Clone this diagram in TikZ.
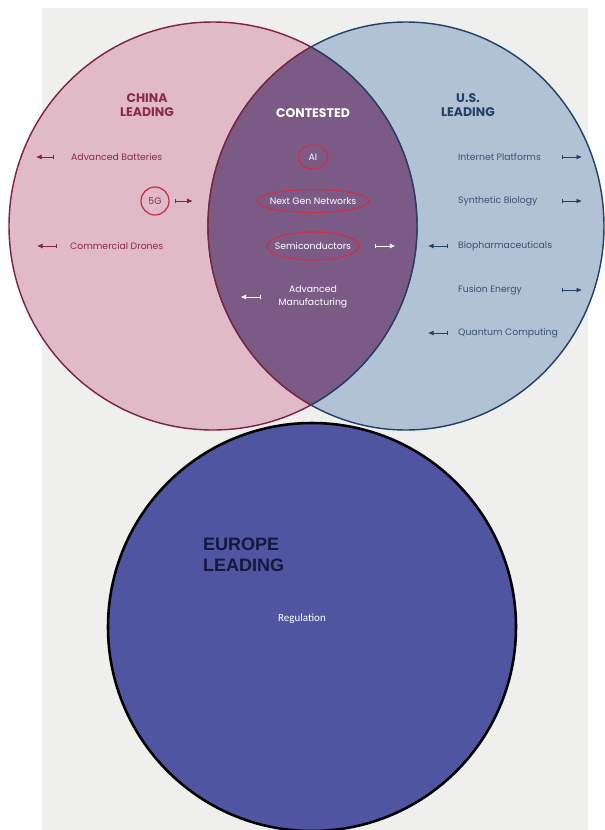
\documentclass[tikz,border=0pt]{standalone}
\usepackage{fontspec}
\setmainfont{Poppins}
\newfontfamily\arialfont{Liberation Sans}
\newfontfamily\calibrifont{Carlito}
\usetikzlibrary{arrows.meta,shapes.geometric,positioning}
\definecolor{bgGrey}{HTML}{EFEFED}
\definecolor{chinaFill}{HTML}{E0BAC7}
\definecolor{chinaLine}{HTML}{7E2344}
\definecolor{chinaText}{HTML}{8A2A4C}
\definecolor{usFill}{HTML}{B2C2D5}
\definecolor{usLine}{HTML}{23406A}
\definecolor{usText}{HTML}{3A5273}
\definecolor{lensFill}{HTML}{7B5B86}
\definecolor{ringRed}{HTML}{C8304C}
\definecolor{euFill}{HTML}{5055A2}
\definecolor{euText}{HTML}{15173C}

\tikzset{
	head/.style={font=\bfseries\fontsize{12.5}{14.5}\selectfont, align=center, inner sep=0pt},
	item/.style={font=\fontsize{9.3}{13}\selectfont, inner sep=0pt},
	ring/.style={draw=ringRed, line width=0.45mm},
	trend/.style={{Bar[width=4.5pt]}-{Latex[length=5.5pt,width=5pt]}, line width=0.3mm},
}

\begin{document}
\begin{tikzpicture}[x=1pt, y=-1pt]
			%%%%% START %%%%%
			\useasboundingbox (0, 0) rectangle (605, 830);
			\fill[bgGrey] (42, 8) rectangle (588, 830);
			
			% the two rings
			\fill[chinaFill] (213, 226) circle (204);
			\fill[usFill] (406, 226) ellipse (198 and 204);
			\draw[line width=0.5mm, color=chinaLine] (213, 226) circle (204);
			\draw[line width=0.5mm, color=usLine] (406, 226) ellipse (198 and 204);
			\begin{scope}
				\clip (213, 226) circle (204);
				\fill[lensFill] (406, 226) ellipse (198 and 204);
				\draw[line width=0.5mm, color=chinaLine] (406, 226) ellipse (198 and 204);
			\end{scope}
			\begin{scope}
				\clip (406, 226) ellipse (198 and 204);
				\draw[line width=0.5mm, color=usLine] (213, 226) circle (204);
			\end{scope}
			
			% headings
			\node[head, text=chinaText] (chinaHead) at (147, 105) {CHINA\\LEADING};
			\node[head, text=white] (contested) at (313, 113) {CONTESTED};
			\node[head, text=usLine] (usHead) at (468, 105) {U.S.\\LEADING};
			
			% china side
			\node[item, text=chinaText, anchor=west] (bat) at (71, 157) {Advanced Batteries};
			\node[item, text=chinaText] (fiveG) at (155, 201) {5G};
			\node[item, text=chinaText, anchor=west] (drones) at (70, 246) {Commercial Drones};
			\draw[ring] (fiveG) circle (14);
			\draw[trend, chinaLine] ([xshift=-17pt]bat.west) -- ++(-18, 0);
			\draw[trend, chinaLine] ([xshift=13pt]fiveG.east) -- ++(18, 0);
			\draw[trend, chinaLine] ([xshift=-13pt]drones.west) -- ++(-20, 0);
			
			% contested
			\node[item, text=white] (ai) at (313, 157) {AI};
			\node[item, text=white] (ngn) at (313, 201) {Next Gen Networks};
			\node[item, text=white] (semi) at (313, 246) {Semiconductors};
			\node[item, text=white, align=center] (manu) at (313, 297) {Advanced\\Manufacturing};
			\draw[ring] (ai) ellipse (15 and 12);
			\draw[ring] (ngn) ellipse (56 and 11.5);
			\draw[ring] (semi) ellipse (46 and 14);
			\draw[trend, white] ([xshift=24pt]semi.east) -- ++(20, 0);
			\draw[trend, white] ([xshift=-18pt]manu.west) -- ++(-20, 0);
			
			% us side
			\node[item, text=usText, anchor=west] (inet) at (458, 157) {Internet Platforms};
			\node[item, text=usText, anchor=west] (synbio) at (458, 201) {Synthetic Biology};
			\node[item, text=usText, anchor=west] (biopharm) at (458, 246) {Biopharmaceuticals};
			\node[item, text=usText, anchor=west] (fusion) at (458, 290) {Fusion Energy};
			\node[item, text=usText, anchor=west] (quantum) at (458, 333) {Quantum Computing};
			\draw[trend, usLine] ([xshift=104pt]inet.west) -- ++(20, 0);
			\draw[trend, usLine] ([xshift=104pt]synbio.west) -- ++(20, 0);
			\draw[trend, usLine] ([xshift=-10pt]biopharm.west) -- ++(-20, 0);
			\draw[trend, usLine] ([xshift=104pt]fusion.west) -- ++(20, 0);
			\draw[trend, usLine] ([xshift=-10pt]quantum.west) -- ++(-20, 0);
			
			% europe
			\draw[fill=euFill, line width=0.9mm, draw=black] (312, 627) circle (204);
			\node[font=\arialfont\bfseries\fontsize{18}{21}\selectfont, text=euText, align=left, anchor=west, inner sep=0pt] (euHead) at (203, 555) {EUROPE\\LEADING};
			\node[font=\calibrifont\fontsize{11}{13}\selectfont, text=white, inner sep=0pt] (reg) at (302, 619) {Regulation};
			
			%%%%% END %%%%%
		\end{tikzpicture}
\end{document}
